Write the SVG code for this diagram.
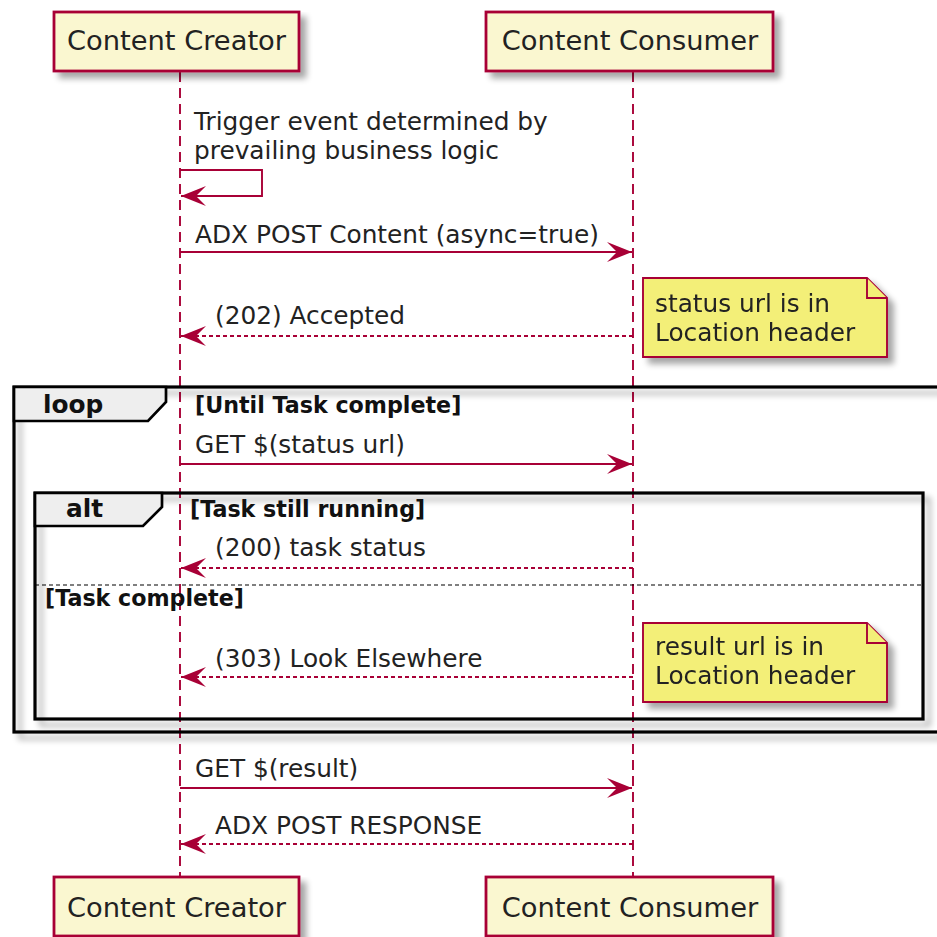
<svg xmlns="http://www.w3.org/2000/svg" width="937" height="937" viewBox="0 0 937 937">
<style>
.part{fill:#FAF7D0;stroke:#A80036;stroke-width:2.8}
.ptxt{font-family:"DejaVu Sans",sans-serif;font-size:27.3px;fill:#222}
.mtxt{font-family:"DejaVu Sans",sans-serif;font-size:24.8px;fill:#222}
.btxt{font-family:"DejaVu Sans",sans-serif;font-size:22.2px;font-weight:bold;fill:#111}
.ftxt{font-family:"DejaVu Sans",sans-serif;font-size:24.8px;font-weight:bold;fill:#111}
.life{stroke:#A80036;stroke-width:1.9;stroke-dasharray:10,6;fill:none}
.msg{stroke:#A80036;stroke-width:1.9;fill:none}
.ret{stroke:#A80036;stroke-width:1.9;fill:none;stroke-dasharray:4,3}
.note{fill:#F3EF78;stroke:#A80036;stroke-width:1.9}
.frame{fill:none;stroke:#000;stroke-width:3.2}
.tab{fill:#EEEEEE;stroke:#000;stroke-width:2.7}
.sep{stroke:#000;stroke-width:1.2;stroke-dasharray:4,3}
</style>
<defs>
<filter id="sh" x="-10%" y="-10%" width="130%" height="150%">
<feGaussianBlur in="SourceAlpha" stdDeviation="3"/>
<feOffset dx="6" dy="6"/>
<feComponentTransfer><feFuncA type="linear" slope="0.35"/></feComponentTransfer>
<feMerge><feMergeNode/><feMergeNode in="SourceGraphic"/></feMerge>
</filter>
<marker id="ah" viewBox="-26 -11 28 22" markerWidth="28" markerHeight="22" refX="0" refY="0" markerUnits="userSpaceOnUse" orient="auto">
<path d="M0,0 L-25,-10 L-15,0 L-25,10 Z" fill="#A80036"/>
</marker>
</defs>
<rect width="937" height="937" fill="#fff"/>

<g id="lifelines">
<line class="life" x1="180" y1="72" x2="180" y2="876"/>
<line class="life" x1="633" y1="72" x2="633" y2="876"/>
</g>

<g id="loop-frame">
<rect class="frame" x="14" y="387" width="940" height="345" filter="url(#sh)"/>
<path class="tab" d="M14,387 H166 V402 L148,421 H14 Z"/>
<text class="ftxt" x="43" y="413">loop</text>
<text class="btxt" x="195" y="413">[Until Task complete]</text>
</g>

<g id="alt-frame">
<rect class="frame" x="35" y="493" width="888" height="226" filter="url(#sh)"/>
<path class="tab" d="M35,493 H162 V507 L143,526 H35 Z"/>
<text class="ftxt" x="66" y="517">alt</text>
<text class="btxt" x="190" y="517">[Task still running]</text>
<line class="sep" x1="35" y1="585" x2="923" y2="585"/>
<text class="btxt" x="45" y="606">[Task complete]</text>
</g>

<g id="creator-top">
<rect class="part" x="54" y="12" width="245" height="59" filter="url(#sh)"/>
<text class="ptxt" x="176.5" y="50" text-anchor="middle">Content Creator</text>
</g>
<g id="consumer-top">
<rect class="part" x="486" y="12" width="287" height="59" filter="url(#sh)"/>
<text class="ptxt" x="630" y="50" text-anchor="middle">Content Consumer</text>
</g>
<g id="creator-bottom">
<rect class="part" x="54" y="877" width="245" height="59" filter="url(#sh)"/>
<text class="ptxt" x="176.5" y="917" text-anchor="middle">Content Creator</text>
</g>
<g id="consumer-bottom">
<rect class="part" x="486" y="877" width="287" height="59" filter="url(#sh)"/>
<text class="ptxt" x="630" y="917" text-anchor="middle">Content Consumer</text>
</g>

<g id="note1" filter="url(#sh)">
<path class="note" d="M643,278 H867 L887,298 V357 H643 Z"/>
<path class="note" d="M867,278 V298 H887"/>
<text class="mtxt" x="655" y="312">status url is in</text>
<text class="mtxt" x="655" y="341">Location header</text>
</g>
<g id="note2" filter="url(#sh)">
<path class="note" d="M643,623 H867 L887,643 V702 H643 Z"/>
<path class="note" d="M867,623 V643 H887"/>
<text class="mtxt" x="655" y="655">result url is in</text>
<text class="mtxt" x="655" y="684">Location header</text>
</g>

<g id="connectors">
<path class="msg" d="M180,170 H262 V196 H181" marker-end="url(#ah)"/>
<text class="mtxt" x="194" y="130">Trigger event determined by</text>
<text class="mtxt" x="194" y="159">prevailing business logic</text>

<line class="msg" x1="180" y1="252" x2="632" y2="252" marker-end="url(#ah)"/>
<text class="mtxt" x="195" y="243">ADX POST Content (async=true)</text>

<line class="ret" x1="633" y1="336" x2="181" y2="336" marker-end="url(#ah)"/>
<text class="mtxt" x="215" y="324">(202) Accepted</text>

<line class="msg" x1="180" y1="464" x2="632" y2="464" marker-end="url(#ah)"/>
<text class="mtxt" x="195" y="453">GET $(status url)</text>

<line class="ret" x1="633" y1="568" x2="181" y2="568" marker-end="url(#ah)"/>
<text class="mtxt" x="215" y="556">(200) task status</text>

<line class="ret" x1="633" y1="677" x2="181" y2="677" marker-end="url(#ah)"/>
<text class="mtxt" x="215" y="667">(303) Look Elsewhere</text>

<line class="msg" x1="180" y1="788" x2="632" y2="788" marker-end="url(#ah)"/>
<text class="mtxt" x="195" y="777">GET $(result)</text>

<line class="ret" x1="633" y1="844" x2="181" y2="844" marker-end="url(#ah)"/>
<text class="mtxt" x="215" y="834">ADX POST RESPONSE</text>
</g>
</svg>
